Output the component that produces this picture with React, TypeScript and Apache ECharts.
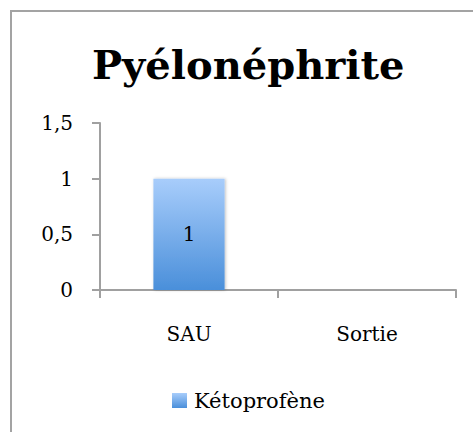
import React, { useEffect, useRef } from "react";
import * as echarts from "echarts";

const categories = ["SAU", "Sortie"];
const seriesName = "Kétoprofène";
const values = [1, null];
const yTicks = [0, 0.5, 1, 1.5];

const FONT = "DejaVu Serif";

export default function App() {
  const ref = useRef<HTMLDivElement>(null);
  useEffect(() => {
    if (!ref.current) return;
    const chart = echarts.init(ref.current, null, { renderer: "svg" });
    const grad = new echarts.graphic.LinearGradient(0, 0, 0, 1, [
      { offset: 0, color: "#a8cdfb" },
      { offset: 1, color: "#4a8fda" },
    ]);
    chart.setOption({
      animation: false,
      backgroundColor: "#ffffff",
      textStyle: { fontFamily: FONT },
      title: {
        text: "Pyélonéphrite",
        left: 87,
        top: 39,
        textStyle: { fontFamily: FONT, fontWeight: "bold", fontSize: 40, color: "#000" },
      },
      graphic: [
        {
          type: "rect",
          shape: { x: 11, y: 11, width: 480, height: 440 },
          style: { fill: "none", stroke: "#a3a3a3", lineWidth: 2 },
          silent: true,
        },
      ],
      grid: { left: 100, top: 123, right: 17, bottom: 142 },
      legend: {
        left: 172,
        top: 390,
        padding: 0,
        itemWidth: 15,
        itemHeight: 15,
        itemGap: 10,
        icon: "rect",
        textStyle: { fontFamily: FONT, fontSize: 21, color: "#000", padding: [0, 0, 0, 2] },
        data: [seriesName],
      },
      xAxis: {
        type: "category",
        data: categories,
        axisLine: { show: true, lineStyle: { color: "#a0a0a0", width: 2 } },
        axisTick: { show: true, length: 8, lineStyle: { color: "#a0a0a0", width: 2 } },
        axisLabel: { fontFamily: FONT, fontSize: 20, color: "#000", margin: 34 },
      },
      yAxis: {
        type: "value",
        min: yTicks[0],
        max: yTicks[yTicks.length - 1],
        interval: 0.5,
        axisLine: { show: true, lineStyle: { color: "#a0a0a0", width: 2 } },
        axisTick: { show: true, length: 8, lineStyle: { color: "#a0a0a0", width: 2 } },
        splitLine: { show: false },
        axisLabel: {
          fontFamily: FONT,
          fontSize: 20,
          color: "#000",
          margin: 27,
          padding: [5, 0, 0, 0],
          formatter: (v: number) => String(v).replace(".", ","),
        },
      },
      series: [
        {
          name: seriesName,
          type: "bar",
          data: values,
          barWidth: "40%",
          itemStyle: { color: grad, shadowColor: "rgba(0,0,0,0.25)", shadowBlur: 3, shadowOffsetX: 1 },
          label: { show: true, position: "inside", fontFamily: FONT, fontSize: 20, color: "#000" },
        },
      ],
    });
    return () => chart.dispose();
  }, []);
  return (
    <div
      ref={ref}
      style={{ position: "fixed", left: 0, top: 0, width: 473, height: 432 }}
    />
  );
}
